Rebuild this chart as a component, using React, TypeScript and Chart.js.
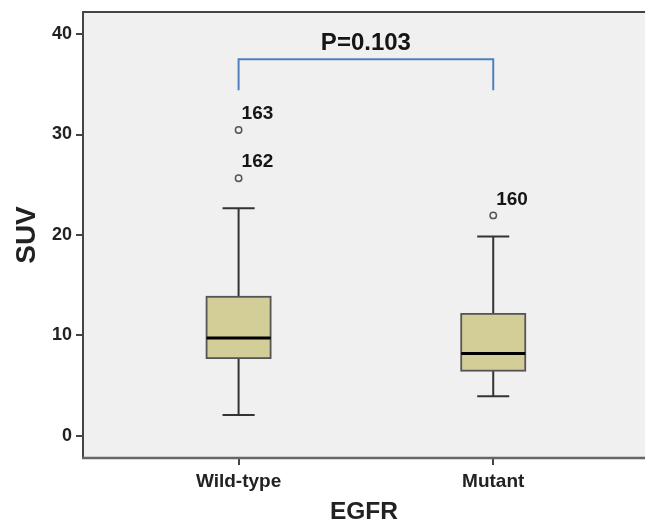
import React, { useEffect, useRef } from "react";
import { Chart, registerables } from "chart.js";

Chart.register(...registerables);

// ---- data ----
const categories = ["Wild-type", "Mutant"];
const whiskerLow = [2.1, 3.95];
const q1 = [7.75, 6.5];
const median = [9.75, 8.2];
const q3 = [13.85, 12.15];
const whiskerHigh = [22.65, 19.85];
const outlierGroup = [0, 0, 1];
const outlierValue = [30.45, 25.65, 21.95];
const outlierLabel = ["163", "162", "160"];
const yTicks = [0, 10, 20, 30, 40];
const pText = "P=0.103";
const pTextValue = 39.1;
const bracketTop = 37.5;
const bracketEnd = 34.4;
const yMin = -2.19;
const yMax = 42.19;
const xMin = -0.611;
const xMax = 1.596;

const FONT = "'Liberation Sans', Arial, sans-serif";
const BOX_HALF = 0.1257;
const CAP_HALF = 0.063;

const boxPlugin = {
  id: "boxPlugin",
  beforeDraw(chart: any) {
    const { ctx, chartArea } = chart;
    ctx.save();
    ctx.fillStyle = "#f0f0f0";
    ctx.fillRect(chartArea.left, chartArea.top, chartArea.right - chartArea.left, chartArea.bottom - chartArea.top);
    ctx.restore();
  },
  beforeDatasetsDraw(chart: any) {
    const { ctx } = chart;
    const xs = chart.scales.x;
    const ys = chart.scales.y;
    ctx.save();
    categories.forEach((_, i) => {
      const cx = xs.getPixelForValue(i);
      const l = xs.getPixelForValue(i - BOX_HALF);
      const r = xs.getPixelForValue(i + BOX_HALF);
      const cl = xs.getPixelForValue(i - CAP_HALF);
      const cr = xs.getPixelForValue(i + CAP_HALF);
      const yq1 = ys.getPixelForValue(q1[i]);
      const yq3 = ys.getPixelForValue(q3[i]);
      const ymed = ys.getPixelForValue(median[i]);
      const ylo = ys.getPixelForValue(whiskerLow[i]);
      const yhi = ys.getPixelForValue(whiskerHigh[i]);
      // whiskers
      ctx.strokeStyle = "#333333";
      ctx.lineWidth = 2;
      ctx.beginPath();
      ctx.moveTo(cx, yq3);
      ctx.lineTo(cx, yhi);
      ctx.moveTo(cl, yhi);
      ctx.lineTo(cr, yhi);
      ctx.moveTo(cx, yq1);
      ctx.lineTo(cx, ylo);
      ctx.moveTo(cl, ylo);
      ctx.lineTo(cr, ylo);
      ctx.stroke();
      // box
      ctx.fillStyle = "#d3cd97";
      ctx.fillRect(l, yq3, r - l, yq1 - yq3);
      ctx.strokeStyle = "#555555";
      ctx.lineWidth = 1.8;
      ctx.strokeRect(l, yq3, r - l, yq1 - yq3);
      // median
      ctx.strokeStyle = "#000000";
      ctx.lineWidth = 3;
      ctx.beginPath();
      ctx.moveTo(l, ymed);
      ctx.lineTo(r, ymed);
      ctx.stroke();
    });
    ctx.restore();
  },
  afterDatasetsDraw(chart: any) {
    const { ctx } = chart;
    const xs = chart.scales.x;
    const ys = chart.scales.y;
    ctx.save();
    ctx.fillStyle = "#151515";
    ctx.textAlign = "left";
    ctx.textBaseline = "middle";
    ctx.font = `bold 19px ${FONT}`;
    outlierValue.forEach((v, i) => {
      const px = xs.getPixelForValue(outlierGroup[i]);
      const py = ys.getPixelForValue(v);
      ctx.fillText(outlierLabel[i], px + 3, py - 16);
    });
    ctx.textAlign = "center";
    ctx.font = `bold 24px ${FONT}`;
    ctx.fillText(pText, xs.getPixelForValue(0.5), ys.getPixelForValue(pTextValue));
    ctx.restore();
  },
  afterDraw(chart: any) {
    const { ctx, chartArea } = chart;
    ctx.save();
    ctx.strokeStyle = "#444444";
    ctx.lineWidth = 2;
    ctx.beginPath();
    ctx.moveTo(chartArea.left, chartArea.bottom);
    ctx.lineTo(chartArea.left, chartArea.top);
    ctx.lineTo(chartArea.right, chartArea.top);
    ctx.stroke();
    ctx.strokeStyle = "#666666";
    ctx.lineWidth = 2.5;
    ctx.beginPath();
    ctx.moveTo(chartArea.left - 1, chartArea.bottom);
    ctx.lineTo(chartArea.right, chartArea.bottom);
    ctx.stroke();
    ctx.restore();
  },
};

const zeroPad = (s: any) => {
  s.paddingTop = 0;
  s.paddingBottom = 0;
  s.paddingLeft = 0;
  s.paddingRight = 0;
};

export default function App() {
  const ref = useRef<HTMLCanvasElement>(null);
  useEffect(() => {
    document.body.style.margin = "0";
    const canvas = ref.current;
    if (!canvas) return;
    const chart = new Chart(canvas, {
      type: "scatter",
      data: {
        datasets: [
          {
            type: "line",
            data: [
              { x: 0, y: bracketEnd },
              { x: 0, y: bracketTop },
              { x: 1, y: bracketTop },
              { x: 1, y: bracketEnd },
            ],
            borderColor: "#4f81bd",
            borderWidth: 2,
            pointRadius: 0,
            tension: 0,
            fill: false,
          } as any,
          {
            type: "scatter",
            data: outlierValue.map((v, i) => ({ x: outlierGroup[i], y: v })),
            pointRadius: 3.2,
            pointHoverRadius: 3.2,
            borderColor: "#555555",
            borderWidth: 1.5,
            backgroundColor: "#f0f0f0",
          },
        ],
      },
      options: {
        animation: false,
        responsive: false,
        events: [],
        layout: { autoPadding: false, padding: { top: 12, right: 0, left: 0, bottom: 0 } },
        plugins: {
          legend: { display: false },
          tooltip: { enabled: false },
        },
        scales: {
          x: {
            type: "linear",
            min: xMin,
            max: xMax,
            afterBuildTicks: (s: any) => {
              s.ticks = categories.map((_, i) => ({ value: i }));
            },
            afterFit: (s: any) => {
              s.height = 61;
              zeroPad(s);
            },
            ticks: {
              callback: (v: any) => categories[v] ?? "",
              font: { family: FONT, size: 19, weight: "bold" },
              color: "#222222",
              padding: 5,
              autoSkip: false,
              maxRotation: 0,
            },
            grid: {
              drawOnChartArea: false,
              drawTicks: true,
              tickLength: 7,
              color: "#444444",
              lineWidth: 2,
            },
            border: { display: false },
            title: {
              display: true,
              text: "EGFR",
              font: { family: FONT, size: 24.5, weight: "bold", lineHeight: 0.7 },
              color: "#222222",
              padding: { top: 0, bottom: -2 },
            },
          },
          y: {
            type: "linear",
            min: yMin,
            max: yMax,
            afterBuildTicks: (s: any) => {
              s.ticks = yTicks.map((v) => ({ value: v }));
            },
            afterFit: (s: any) => {
              s.width = 83;
              zeroPad(s);
            },
            ticks: {
              callback: (v: any) => String(v),
              font: { family: FONT, size: 18, weight: "bold" },
              color: "#222222",
              padding: 4,
            },
            grid: {
              drawOnChartArea: false,
              drawTicks: true,
              tickLength: 7,
              color: "#444444",
              lineWidth: 2,
            },
            border: { display: false },
            title: {
              display: true,
              text: "SUV",
              font: { family: FONT, size: 28, weight: "bold" },
              color: "#222222",
              padding: { top: 10, bottom: 0 },
            },
          },
        },
      },
      plugins: [boxPlugin],
    } as any);
    return () => chart.destroy();
  }, []);
  return (
    <div style={{ width: 645, height: 519, background: "#ffffff" }}>
      <canvas ref={ref} width={645} height={519} style={{ display: "block" }} />
    </div>
  );
}
